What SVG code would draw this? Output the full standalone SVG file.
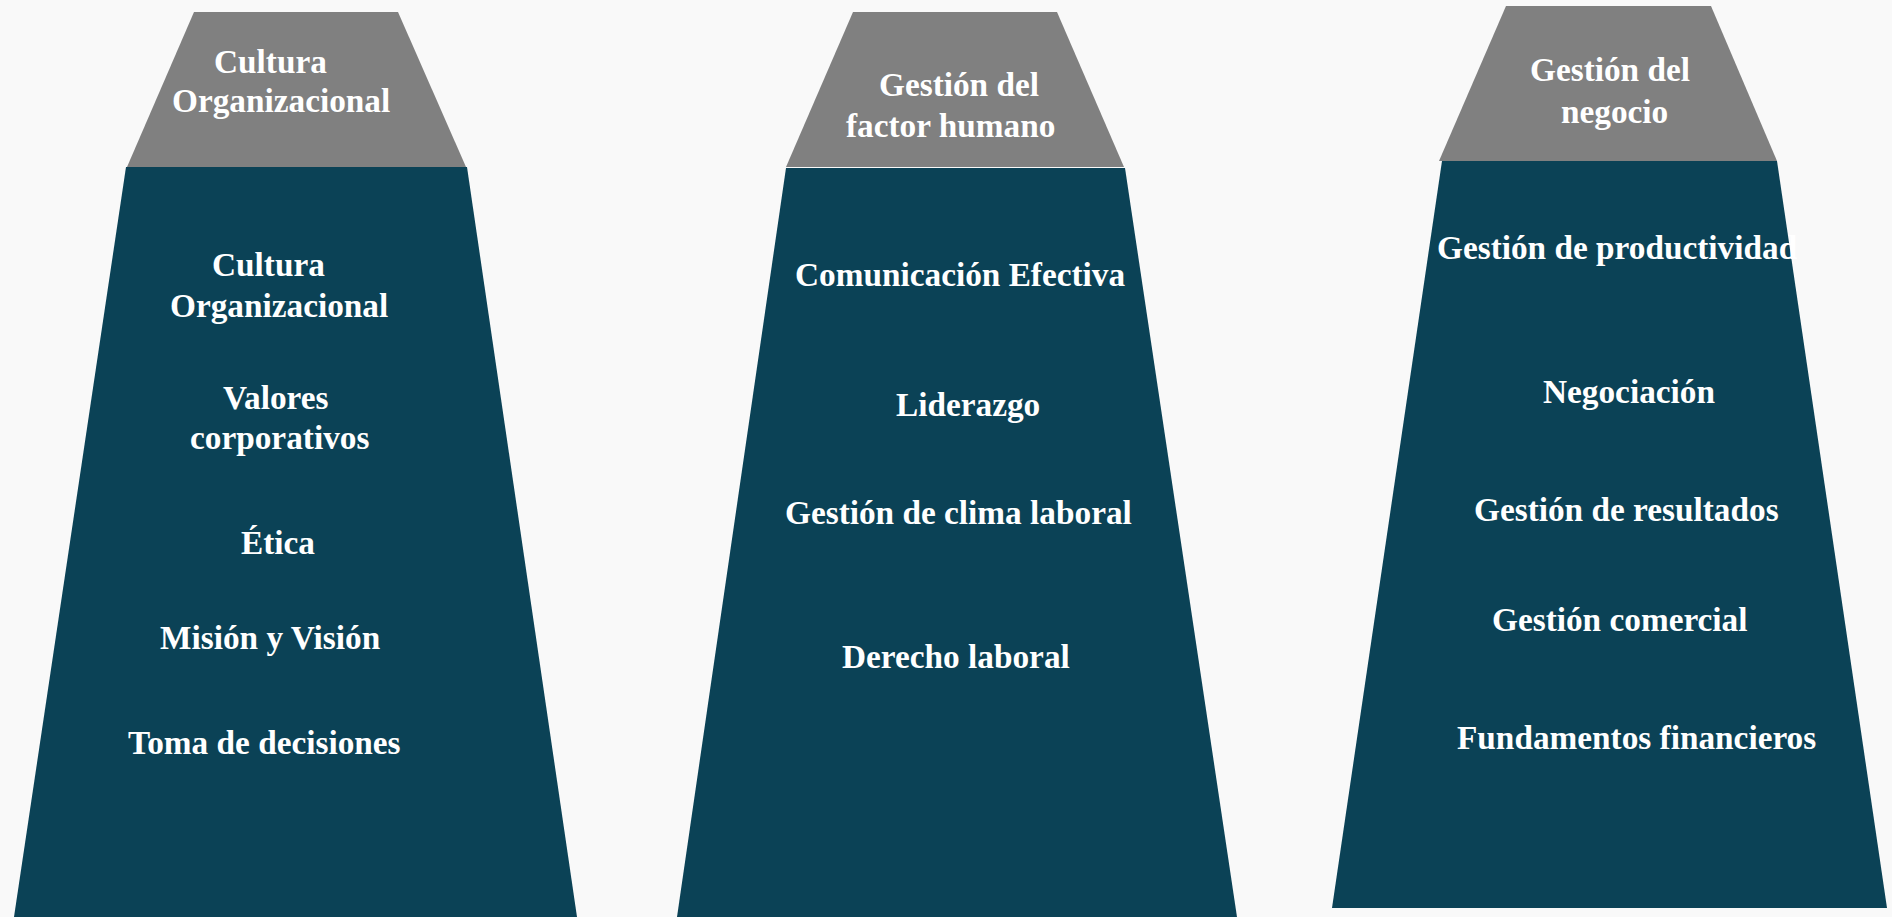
<svg xmlns="http://www.w3.org/2000/svg" width="1892" height="917" viewBox="0 0 1892 917">
<style>
.cap{fill:#808080}
.body{fill:#0b4256}
.t{font-family:"Liberation Serif","Times New Roman",serif;font-weight:bold;font-size:33.3px;fill:#ffffff}
</style>
<defs>
<clipPath id="clipProd"><rect x="1300" y="200" width="497" height="100"/></clipPath>
</defs>
<rect x="0" y="0" width="1892" height="917" fill="#f9f9f9"/>
<g id="connectors"></g>
<g id="col1">
<polygon class="body" points="126,167 467,167 577,917 14,917"/>
<polygon class="cap" points="194,12 398,12 466,167 127,167"/>
<text class="t" x="214" y="73">Cultura</text>
<text class="t" x="172" y="112">Organizacional</text>
<text class="t" x="212" y="276">Cultura</text>
<text class="t" x="170" y="317">Organizacional</text>
<text class="t" x="223" y="409">Valores</text>
<text class="t" x="190" y="449">corporativos</text>
<text class="t" x="241" y="554">Ética</text>
<text class="t" x="160" y="649">Misión y Visión</text>
<text class="t" x="128" y="754">Toma de decisiones</text>
</g>
<g id="col2">
<polygon class="body" points="786,168 1125,168 1237,917 677,917"/>
<polygon class="cap" points="853,12 1057,12 1124,167 786,167"/>
<text class="t" x="879" y="96">Gestión del</text>
<text class="t" x="846" y="137">factor humano</text>
<text class="t" x="795" y="286">Comunicación Efectiva</text>
<text class="t" x="896" y="416">Liderazgo</text>
<text class="t" x="785" y="524">Gestión de clima laboral</text>
<text class="t" x="842" y="668">Derecho laboral</text>
</g>
<g id="col3">
<polygon class="body" points="1442,161 1777,161 1887,908 1332,908"/>
<polygon class="cap" points="1506,6 1711,6 1777,161 1439,161"/>
<text class="t" x="1530" y="81">Gestión del</text>
<text class="t" x="1561" y="123">negocio</text>
<text class="t" x="1437" y="259" clip-path="url(#clipProd)">Gestión de productividad</text>
<text class="t" x="1543" y="403">Negociación</text>
<text class="t" x="1474" y="521">Gestión de resultados</text>
<text class="t" x="1492" y="631">Gestión comercial</text>
<text class="t" x="1457" y="749">Fundamentos financieros</text>
</g>
</svg>
